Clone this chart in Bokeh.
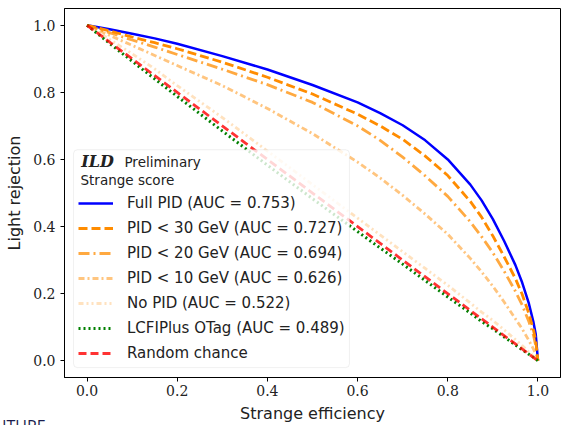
from bokeh.plotting import figure
from bokeh.models import Legend, LegendItem, FixedTicker, BoxAnnotation, Label, Range1d, Title
from bokeh.embed import file_html
from bokeh.resources import INLINE

# Strange-tagging ROC curves: light-quark rejection vs strange efficiency
efficiency = [0.0, 0.05, 0.1, 0.15, 0.2, 0.3, 0.4, 0.5, 0.6, 0.65, 0.7, 0.75, 0.8,
              0.85, 0.875, 0.9, 0.925, 0.95, 0.965, 0.98, 0.99, 0.995, 1.0]
full_pid = [1.0, 0.988, 0.975, 0.961, 0.945, 0.908, 0.868, 0.822, 0.77, 0.738, 0.702, 0.657, 0.600,
            0.525, 0.478, 0.422, 0.357, 0.285, 0.233, 0.17, 0.115, 0.08, 0.0]
pid_lt30 = [1.0, 0.983, 0.965, 0.948, 0.93, 0.89, 0.845, 0.795, 0.735, 0.70, 0.66, 0.61, 0.552,
            0.475, 0.428, 0.372, 0.31, 0.245, 0.198, 0.14, 0.092, 0.06, 0.0]
pid_lt20 = [1.0, 0.978, 0.956, 0.935, 0.913, 0.869, 0.823, 0.77, 0.70, 0.657, 0.607, 0.551, 0.49,
            0.414, 0.37, 0.322, 0.267, 0.207, 0.166, 0.116, 0.076, 0.046, 0.0]
pid_lt10 = [1.0, 0.97, 0.94, 0.91, 0.88, 0.82, 0.752, 0.677, 0.592, 0.545, 0.493, 0.437, 0.377,
            0.305, 0.265, 0.222, 0.175, 0.125, 0.095, 0.06, 0.035, 0.02, 0.0]
no_pid = [1.0, 0.958, 0.915, 0.87, 0.82, 0.725, 0.625, 0.525, 0.425, 0.375, 0.325, 0.275, 0.225,
          0.172, 0.145, 0.12, 0.092, 0.063, 0.045, 0.026, 0.013, 0.007, 0.0]
lcfiplus = [1.0, 0.946, 0.893, 0.84, 0.788, 0.685, 0.583, 0.483, 0.385, 0.336, 0.288, 0.239, 0.19,
            0.142, 0.117, 0.095, 0.071, 0.047, 0.033, 0.019, 0.01, 0.005, 0.0]
chance_x = [0.0, 1.0]
chance_y = [1.0, 0.0]

series_labels = [
    "Full PID (AUC = 0.753)",
    "PID < 30 GeV (AUC = 0.727)",
    "PID < 20 GeV (AUC = 0.694)",
    "PID < 10 GeV (AUC = 0.626)",
    "No PID (AUC = 0.522)",
    "LCFIPlus OTag (AUC = 0.489)",
    "Random chance",
]
tick_values = [0.0, 0.2, 0.4, 0.6, 0.8, 1.0]
tick_labels = ["0.0", "0.2", "0.4", "0.6", "0.8", "1.0"]

p = figure(
    width=561, height=425,
    x_range=Range1d(-0.05, 1.05), y_range=Range1d(-0.05, 1.05),
    output_backend="svg", toolbar_location=None,
    min_border_left=64, min_border_right=1, min_border_top=8, min_border_bottom=46,
    x_axis_label="Strange efficiency", y_axis_label="Light rejection",
)
p.background_fill_color = "white"
p.border_fill_color = "white"
p.outline_line_color = "black"
p.outline_line_width = 1
p.xgrid.visible = False
p.ygrid.visible = False

for ax in (p.xaxis[0], p.yaxis[0]):
    ax.ticker = FixedTicker(ticks=tick_values)
    ax.major_label_overrides = dict(zip(tick_values, tick_labels))
    ax.minor_tick_line_color = None
    ax.major_tick_in = 0
    ax.major_tick_out = 4
    ax.major_tick_line_color = "black"
    ax.axis_line_color = "black"
    ax.major_label_text_font = "DejaVu Serif"
    ax.major_label_text_font_size = "14px"
    ax.major_label_text_color = "#222222"
    ax.axis_label_text_font = "DejaVu Sans"
    ax.axis_label_text_font_size = "16px"
    ax.axis_label_text_font_style = "normal"
    ax.axis_label_text_color = "#222222"
p.xaxis.major_label_standoff = 3
p.yaxis.major_label_standoff = 5
p.xaxis.axis_label_standoff = 5
p.yaxis.axis_label_standoff = 6

styles = [
    (full_pid, "blue", 1.0, "solid", 2.5),
    (pid_lt30, "darkorange", 1.0, "9 4", 2.8),
    (pid_lt20, "darkorange", 0.75, "11 4 2 4", 2.8),
    (pid_lt10, "darkorange", 0.5, "6 3 2 3", 2.8),
    (no_pid, "darkorange", 0.25, "5 3 2 3 2 3", 2.8),
    (lcfiplus, "green", 1.0, "2 3", 3.0),
]
renderers = []
for ys, color, alpha, dash, lw in styles:
    r = p.line(efficiency, ys, line_color=color, line_alpha=alpha, line_dash=dash, line_width=lw)
    renderers.append(r)
r = p.line(chance_x, chance_y, line_color="red", line_alpha=0.8, line_dash="8 4", line_width=2.8)
renderers.append(r)

# legend frame (semi-transparent, drawn over the curves)
legend_box = BoxAnnotation(left=-0.030, right=0.582, top=0.629, bottom=-0.0205,
                           fill_color="white", fill_alpha=0.8,
                           line_color="#cccccc", line_width=1, border_radius=4)
p.add_layout(legend_box)

p.add_layout(Label(x=-0.013, y=0.593, text="ILD", text_font="DejaVu Serif",
                   text_font_style="bold italic", text_font_size="16px",
                   text_baseline="middle", text_color="#222222"))
p.add_layout(Label(x=0.083, y=0.593, text="Preliminary", text_font="DejaVu Sans",
                   text_font_size="13.5px", text_baseline="middle", text_color="#222222"))
p.add_layout(Label(x=-0.0145, y=0.540, text="Strange score", text_font="DejaVu Sans",
                   text_font_size="13.5px", text_baseline="middle", text_color="#222222"))

legend = Legend(
    items=[LegendItem(label=lab, renderers=[rr]) for lab, rr in zip(series_labels, renderers)],
    location="bottom_left", margin=4, padding=10, spacing=5,
    glyph_width=35, glyph_height=20, label_height=20, label_standoff=14,
    label_text_font="DejaVu Sans", label_text_font_size="15px", label_text_color="#222222",
    border_line_alpha=0, background_fill_alpha=0,
)
p.add_layout(legend, "center")

# slide footer text partly visible in the lower left corner (collapsed title strip)
footer = Title(text="FUTURE", align="left", offset=-78, standoff=-24,
               vertical_align="middle", text_font="Open Sans", text_font_size="16px",
               text_font_style="normal", text_color="#1b1d4d")
p.add_layout(footer, "below")

open("out.html", "w").write(file_html(p, INLINE))
